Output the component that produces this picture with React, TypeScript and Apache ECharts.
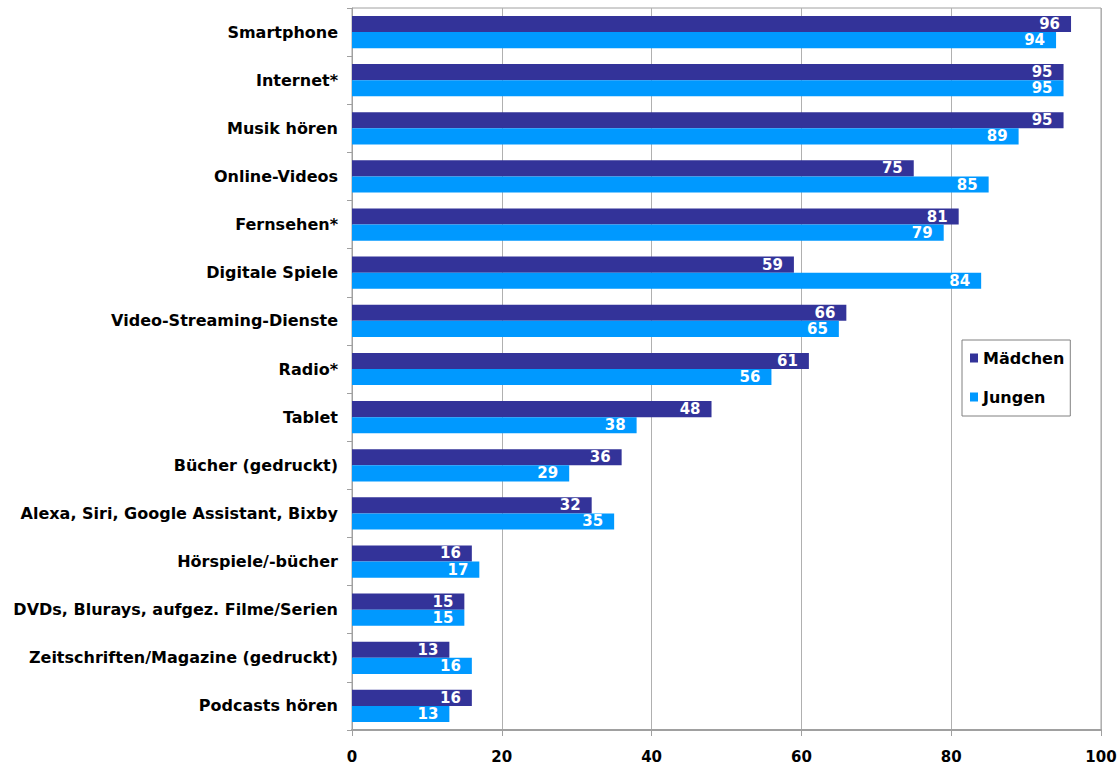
import React, { useEffect, useRef } from "react";
import * as echarts from "echarts";

const categories = [
  "Smartphone",
  "Internet*",
  "Musik hören",
  "Online-Videos",
  "Fernsehen*",
  "Digitale Spiele",
  "Video-Streaming-Dienste",
  "Radio*",
  "Tablet",
  "Bücher (gedruckt)",
  "Alexa, Siri, Google Assistant, Bixby",
  "Hörspiele/-bücher",
  "DVDs, Blurays, aufgez. Filme/Serien",
  "Zeitschriften/Magazine (gedruckt)",
  "Podcasts hören",
];
const maedchen = [96, 95, 95, 75, 81, 59, 66, 61, 48, 36, 32, 16, 15, 13, 16];
const jungen = [94, 95, 89, 85, 79, 84, 65, 56, 38, 29, 35, 17, 15, 16, 13];
const xTicks = [0, 20, 40, 60, 80, 100];

const FONT = "DejaVu Sans";

export default function App() {
  const ref = useRef<HTMLDivElement>(null);
  useEffect(() => {
    if (!ref.current) return;
    const chart = echarts.init(ref.current, null, { renderer: "svg" });
    const label = {
      show: true,
      position: "insideRight",
      distance: 11,
      color: "#ffffff",
      fontFamily: FONT,
      fontWeight: "bold",
      fontSize: 15,
      lineHeight: 14,
    };
    chart.setOption({
      animation: false,
      backgroundColor: "#ffffff",
      textStyle: { fontFamily: FONT },
      grid: {
        left: 352,
        right: 19,
        top: 8,
        bottom: 39,
        show: true,
        borderColor: "#a0a0a0",
        borderWidth: 1,
        containLabel: false,
      },
      legend: {
        orient: "vertical",
        left: 962,
        top: 340,
        padding: [10, 6, 11, 8],
        itemWidth: 8,
        itemHeight: 9,
        itemGap: 23,
        borderColor: "#808080",
        borderWidth: 1,
        icon: "rect",
        textStyle: { fontFamily: FONT, fontWeight: "bold", fontSize: 16, color: "#000" },
        data: ["Mädchen", "Jungen"],
      },
      xAxis: {
        type: "value",
        min: xTicks[0],
        max: xTicks[xTicks.length - 1],
        interval: 20,
        axisLine: { show: true, lineStyle: { color: "#a0a0a0", width: 2 } },
        axisTick: { show: true, length: 6, lineStyle: { color: "#a0a0a0" } },
        axisLabel: { color: "#000", fontFamily: FONT, fontWeight: "bold", fontSize: 15, margin: 19 },
        splitLine: { show: true, lineStyle: { color: "#b0b0b0", width: 1 } },
      },
      yAxis: {
        type: "category",
        inverse: true,
        data: categories,
        axisLine: { show: true, lineStyle: { color: "#a0a0a0" } },
        axisTick: { show: true, length: 5, lineStyle: { color: "#a0a0a0" } },
        axisLabel: { color: "#000", fontFamily: FONT, fontWeight: "bold", fontSize: 16, margin: 14 },
      },
      series: [
        {
          name: "Mädchen",
          type: "bar",
          data: maedchen,
          barGap: "0%",
          barCategoryGap: "33%",
          itemStyle: { color: "#333399" },
          label,
        },
        {
          name: "Jungen",
          type: "bar",
          data: jungen,
          barGap: "0%",
          barCategoryGap: "33%",
          itemStyle: { color: "#0099ff" },
          label,
        },
      ],
    });
    return () => chart.dispose();
  }, []);
  return (
    <div
      ref={ref}
      style={{ position: "fixed", left: 0, top: 0, width: 1120, height: 769 }}
    />
  );
}
